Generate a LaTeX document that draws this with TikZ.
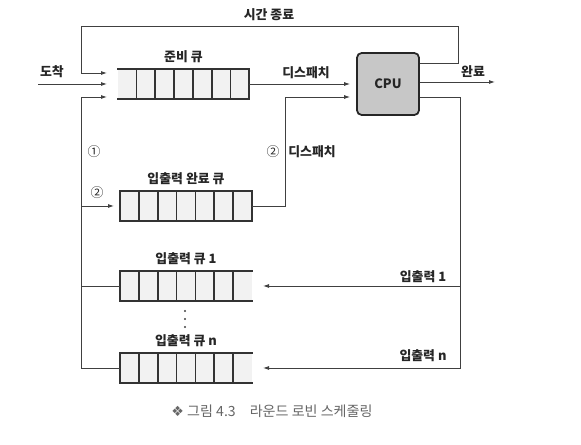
\documentclass[tikz,border=0pt]{standalone}
\usepackage{fontspec}
\setmainfont{Noto Sans CJK KR}
\newfontfamily\symfont{DejaVu Sans}
\usepackage{tikz}
\usetikzlibrary{positioning,arrows.meta,calc}

\begin{document}
\begin{tikzpicture}[
x=0.3mm, y=-0.3mm,
node distance=0.6mm,
font=\fontsize{11}{13}\selectfont\bfseries,
queue/.style={fill=black!5, minimum width=39.3mm, minimum height=9mm, inner sep=0pt},
qline/.style={line width=1.5pt, black!80, line cap=rect},
cpubox/.style={draw=black!85, line width=1.5pt, rounded corners=4pt, fill=black!22, minimum width=18.6mm, minimum height=18.6mm},
conn/.style={line width=0.75pt, black!75},
arrow/.style={conn, -{Latex[length=1.8mm,width=1.2mm]}},
lbl/.style={text=black!85},
num/.style={text=black!85, font=\fontsize{11}{13}\selectfont}
]
\useasboundingbox (0,0) rectangle (581,445);

% queues
\node[queue] (ready) at (183.5,84) {};
\node[queue] (iodone) at (186,206) {};
\node[queue] (io1) at (186,286) {};
\node[queue] (ion) at (186,368) {};
\foreach \q/\a/\b in {ready/1/7, iodone/0/7, io1/0/6, ion/0/6}{
  \draw[qline] (\q.north west) -- (\q.north east) (\q.south west) -- (\q.south east);
  \foreach \i in {\a,...,\b}
    \draw[qline] ($(\q.north west)!\i/7!(\q.north east)$) -- ($(\q.south west)!\i/7!(\q.south east)$);
}
\node[lbl, above=of ready] (readylbl) {준비 큐};
\node[lbl, above=of iodone] (iodonelbl) {입출력 완료 큐};
\node[lbl, above=of io1] (io1lbl) {입출력 큐 1};
\node[lbl, above=of ion] (ionlbl) {입출력 큐 n};
\foreach \y in {311,319,327}
  \fill[black!75] (185,\y) circle (0.35mm);

% cpu
\node[cpubox, text=black!85] (cpu) at (388,84) {CPU};

% free ends
\coordinate (arrive) at (38,84);
\coordinate (finish) at (495,82);

% time out
\draw[arrow] ($(cpu.east)+(0,-21)$) -| (458,26) -| (81,73) -- (107,73);
\node[lbl] (timeout) at (269,15) {시간 종료};

% arrival
\draw[arrow] (arrive) -- (107,84);
\node[lbl] (arrivelbl) at (52,72) {도착};

% io queues back to ready / io done
\draw[arrow] (ion.west) -| (81,97) -- (107,97);
\draw[conn] (io1.west) -- (81,286);
\draw[arrow] (81,206) -- (114,206);
\node[num] (one) at (94,152) {①};
\node[num] (two) at (97,193) {②};

% dispatch
\draw[arrow, shorten >=1.8mm] (ready.east) -- (ready.east -| cpu.west);
\node[lbl] (disp) at (306,73) {디스패치};
\draw[arrow, shorten >=1.8mm] (iodone.east) -| (285,97) -- ($(cpu.west)+(0,13)$);
\node[num] (twob) at (273,152) {②};
\node[lbl] (disp2) at (312,152) {디스패치};

% done
\draw[arrow] ($(cpu.east)+(0,-2)$) -- (finish);
\node[lbl] (donelbl) at (473,72) {완료};

% io requests
\draw[arrow] ($(cpu.east)+(0,13)$) -| (460,368) -- (263,368);
\draw[arrow] (460,286) -- (263,286);
\node[lbl] (req1) at (423,277) {입출력 1};
\node[lbl] (reqn) at (423,356) {입출력 n};

% caption
\node[font=\fontsize{12}{14}\selectfont, text=black!60] (caption) at (272,411)
  {{\symfont ❖} 그림 4.3\quad 라운드 로빈 스케줄링};
\end{tikzpicture}
\end{document}
